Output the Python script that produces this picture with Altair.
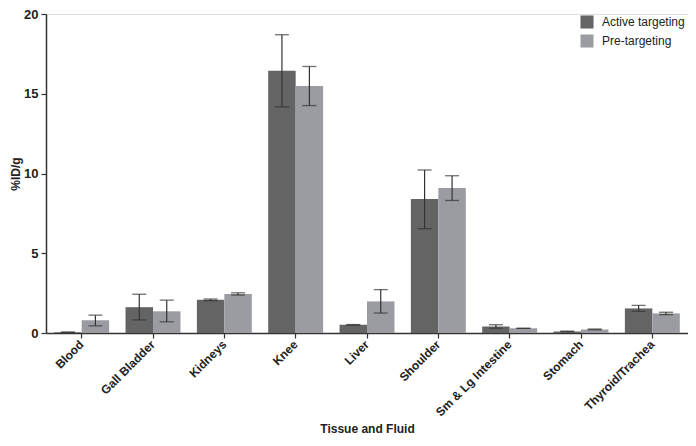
import altair as alt
import pandas as pd

categories = ["Blood", "Gall Bladder", "Kidneys", "Knee", "Liver", "Shoulder",
              "Sm & Lg Intestine", "Stomach", "Thyroid/Trachea"]
series = ["Active targeting", "Pre-targeting"]

active_mean = [0.05, 1.62, 2.08, 16.44, 0.51, 8.40, 0.41, 0.10, 1.54]
active_lo   = [0.05, 0.82, 2.03, 14.18, 0.49, 6.54, 0.30, 0.08, 1.36]
active_hi   = [0.05, 2.43, 2.13, 18.70, 0.53, 10.22, 0.52, 0.12, 1.73]

pre_mean = [0.80, 1.36, 2.45, 15.49, 1.98, 9.09, 0.29, 0.22, 1.23]
pre_lo   = [0.45, 0.70, 2.38, 14.26, 1.25, 8.31, 0.29, 0.20, 1.15]
pre_hi   = [1.12, 2.06, 2.52, 16.71, 2.72, 9.86, 0.29, 0.25, 1.30]

rows = []
for i, c in enumerate(categories):
    rows.append({"cat": c, "series": series[0], "mean": active_mean[i],
                 "lo": active_lo[i], "hi": active_hi[i]})
    rows.append({"cat": c, "series": series[1], "mean": pre_mean[i],
                 "lo": pre_lo[i], "hi": pre_hi[i]})
df = pd.DataFrame(rows)

FONT = "Liberation Sans"

xenc = alt.X("cat:N", sort=categories, title="Tissue and Fluid",
             scale=alt.Scale(paddingInner=0.23, paddingOuter=0.115),
             axis=alt.Axis(labelAngle=-45, labelAlign="right", labelBaseline="middle",
                           labelFont=FONT, labelFontWeight="bold", labelFontSize=12,
                           labelColor="#222", labelPadding=4,
                           titleFont=FONT, titleFontWeight="bold", titleFontSize=12,
                           titleColor="#222", titlePadding=6,
                           domainColor="#333", domainWidth=1.5,
                           tickColor="#333", tickWidth=1.2, tickSize=5))
xoff = alt.XOffset("series:N", sort=series)
yscale = alt.Scale(domain=[0, 20], nice=False)
yaxis = alt.Axis(values=[0, 5, 10, 15, 20], grid=False, title="%ID/g",
                 labelFont=FONT, labelFontWeight="bold", labelFontSize=13,
                 labelColor="#222", labelPadding=3,
                 titleFont=FONT, titleFontWeight="bold", titleFontSize=12,
                 titleColor="#222", titlePadding=1,
                 domainColor="#333", domainWidth=1.5,
                 tickColor="#333", tickWidth=1.2, tickSize=5)

color = alt.Color("series:N", sort=series,
                  scale=alt.Scale(domain=series, range=["#646464", "#9b9ca1"]),
                  legend=alt.Legend(title=None, orient="none", legendX=534, legendY=1,
                                    symbolType="square", symbolSize=170,
                                    symbolStrokeWidth=0, labelFont=FONT,
                                    labelFontSize=12, labelColor="#222",
                                    rowPadding=5, labelOffset=8))

base = alt.Chart(df)
bars = base.mark_bar().encode(
    x=xenc, xOffset=xoff,
    y=alt.Y("mean:Q", scale=yscale, axis=yaxis),
    color=color)

err = base.mark_rule(color="#333", strokeWidth=1.2).encode(
    x=alt.X("cat:N", sort=categories), xOffset=xoff,
    y="lo:Q", y2="hi:Q")
cap_hi = base.mark_tick(color="#333", thickness=1.3, size=14).encode(
    x=alt.X("cat:N", sort=categories), xOffset=xoff, y="hi:Q")
cap_lo = base.mark_tick(color="#333", thickness=1.3, size=14).encode(
    x=alt.X("cat:N", sort=categories), xOffset=xoff, y="lo:Q")

chart = alt.layer(bars, err, cap_hi, cap_lo).properties(
    width=642, height=319,
    padding={"left": 38, "top": 6, "right": 0, "bottom": 105},
    autosize=alt.AutoSizeParams(type="none"),
).configure_view(stroke=None).configure(background="white")

chart.save("out.html", embed_options={"renderer": "svg", "actions": False})
